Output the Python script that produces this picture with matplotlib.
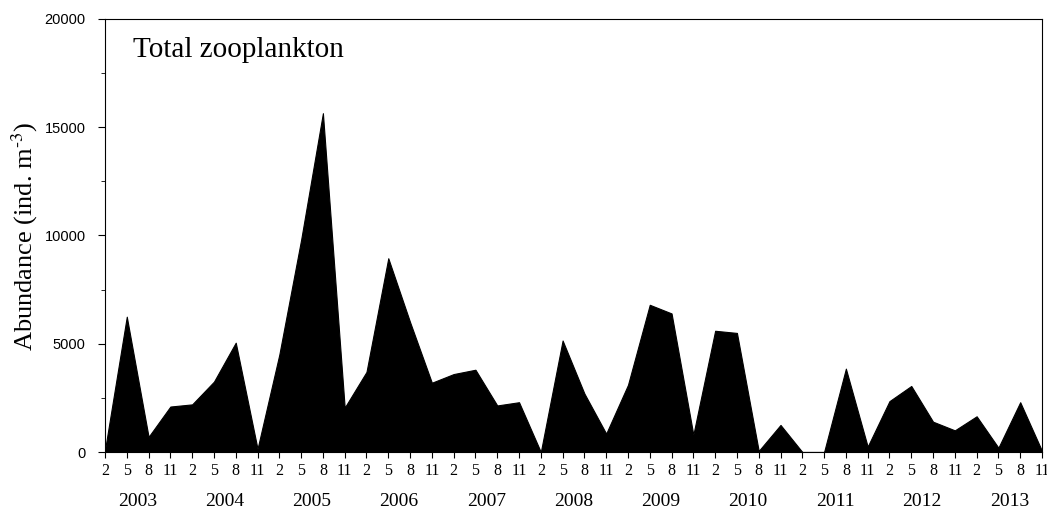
import numpy as np
import matplotlib
matplotlib.use("Agg")
from matplotlib import pyplot as plt

# sampling months (every 3 months) and years
months = [2, 5, 8, 11]
years = list(range(2003, 2014))

# total zooplankton abundance (ind. m^-3), one value per sampling month
abundance = [100, 6250, 700, 2100, 2200, 3250, 5050, 150,
             4500, 9800, 15650, 2050, 3700, 8950, 6000, 3200,
             3600, 3800, 2150, 2300, 0, 5150, 2700, 850,
             3100, 6800, 6400, 800, 5600, 5500, 50, 1250,
             0, 0, 3850, 250, 2350, 3050, 1400, 1000,
             1650, 200, 2300, 50]

tick_labels = [str(m) for y in years for m in months]

plt.rcParams['font.family'] = ['Liberation Serif', 'DejaVu Serif']
plt.rcParams['mathtext.fontset'] = 'stix'

fig = plt.figure(figsize=(10.47, 5.08), dpi=100)
ax = fig.add_axes([105/1047, 56/508, 937/1047, 433/508])

x = np.arange(len(abundance))
ax.fill_between(x, abundance, 0, color='black', linewidth=0.8)

ax.set_xlim(0, len(abundance) - 1)
ax.set_ylim(0, 20000)

ax.set_xticks(x)
ax.set_xticklabels(tick_labels, fontsize=11.5)
ax.set_yticks(np.arange(0, 20001, 5000))
ax.set_yticks(np.arange(0, 20001, 2500), minor=True)
for lab in ax.get_yticklabels():
    lab.set_fontfamily('Liberation Sans')
    lab.set_fontsize(10.5)
ax.tick_params(axis='y', which='major', length=5, pad=9)
ax.tick_params(axis='y', which='minor', length=3)
ax.tick_params(axis='x', length=4, pad=4)

for sp in ax.spines.values():
    sp.set_linewidth(0.8)

# year labels centred under each group of four months
for i, yr in enumerate(years):
    ax.annotate(str(yr), xy=(i * 4 + 1.5, 0), xycoords=('data', 'axes fraction'),
                xytext=(0, -35.5), textcoords='offset points',
                ha='center', va='center', fontsize=14)

ax.text(0.030, 0.928, 'Total zooplankton', transform=ax.transAxes,
        fontsize=21, ha='left', va='center')

fig.text(25/1047, 1 - 236/508, r'Abundance (ind. m$^{\text{-}3}$)', rotation=90,
         ha='center', va='center', fontsize=19)

fig.savefig('out.png', dpi=100)
